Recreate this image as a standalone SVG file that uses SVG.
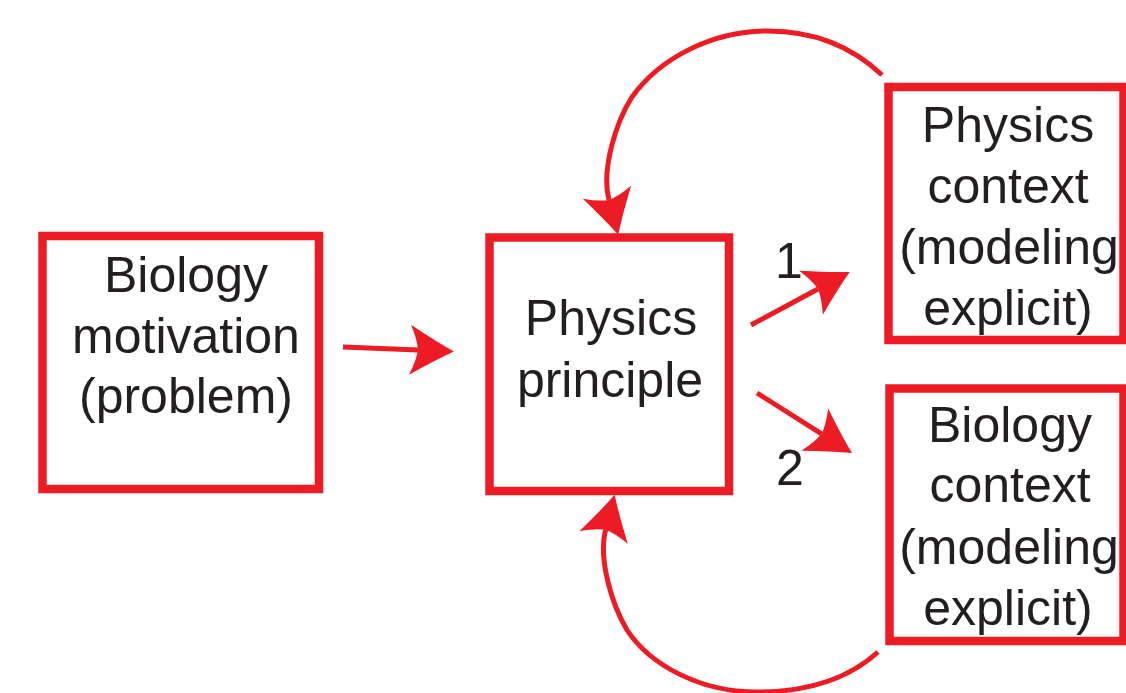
<svg xmlns="http://www.w3.org/2000/svg" width="1126" height="693" viewBox="0 0 1126 693">
<style>
.box{fill:#fff;stroke:#ED1C24;stroke-width:8.5}
.lbl{font-family:"Liberation Sans",Arial,sans-serif;font-size:50px;fill:#231F20;text-anchor:middle}
.conn{fill:none;stroke:#ED1C24;stroke-width:5}
</style>
<defs>
<marker id="ah" markerUnits="userSpaceOnUse" orient="auto" markerWidth="60" markerHeight="60" refX="0" refY="0" viewBox="-15 -30 60 60" overflow="visible">
<path d="M36,0 Q18,-9 -8,-25 Q-1,-10 0,0 Q-1,10 -8,25 Q18,9 36,0 Z" fill="#ED1C24"/>
</marker>
</defs>
<rect width="1126" height="693" fill="#fff"/>
<g id="connectors">
<path class="conn" d="M343,347 L418,350" marker-end="url(#ah)"/>
<path class="conn" d="M751,325 L818,289" marker-end="url(#ah)"/>
<path class="conn" d="M757,393 L821.6,433.8" marker-end="url(#ah)"/>
<path class="conn" d="M882,75 C845,40 805,31 768,31 C712,31 660,58 632,97 C616,122 601,170 609,200" marker-end="url(#ah)"/>
<path class="conn" d="M878,652 C845,682 800,692 757,692 C700,692 650,665 627,630 C612,605 598,559 605.6,529.7" marker-end="url(#ah)"/>
<text class="lbl" x="789" y="278">1</text>
<text class="lbl" x="790" y="485">2</text>
</g>
<g id="bio-motivation">
<rect class="box" x="42.5" y="236" width="276.5" height="253"/>
<text class="lbl" x="186" y="292">Biology</text>
<text class="lbl" x="186" y="353">motivation</text>
<text class="lbl" x="186" y="413">(problem)</text>
</g>
<g id="physics-principle">
<rect class="box" x="489.5" y="237.5" width="239.5" height="253.5"/>
<text class="lbl" x="611" y="335">Physics</text>
<text class="lbl" x="610" y="397">principle</text>
</g>
<g id="physics-context">
<rect class="box" x="888.5" y="87" width="235" height="253"/>
<text class="lbl" x="1008" y="142">Physics</text>
<text class="lbl" x="1008" y="203">context</text>
<text class="lbl" x="1009" y="264">(modeling</text>
<text class="lbl" x="1008" y="325">explicit)</text>
</g>
<g id="biology-context">
<rect class="box" x="889.5" y="388.5" width="234" height="252.5"/>
<text class="lbl" x="1010" y="442">Biology</text>
<text class="lbl" x="1010" y="502">context</text>
<text class="lbl" x="1009" y="564">(modeling</text>
<text class="lbl" x="1008" y="625">explicit)</text>
</g>
</svg>
